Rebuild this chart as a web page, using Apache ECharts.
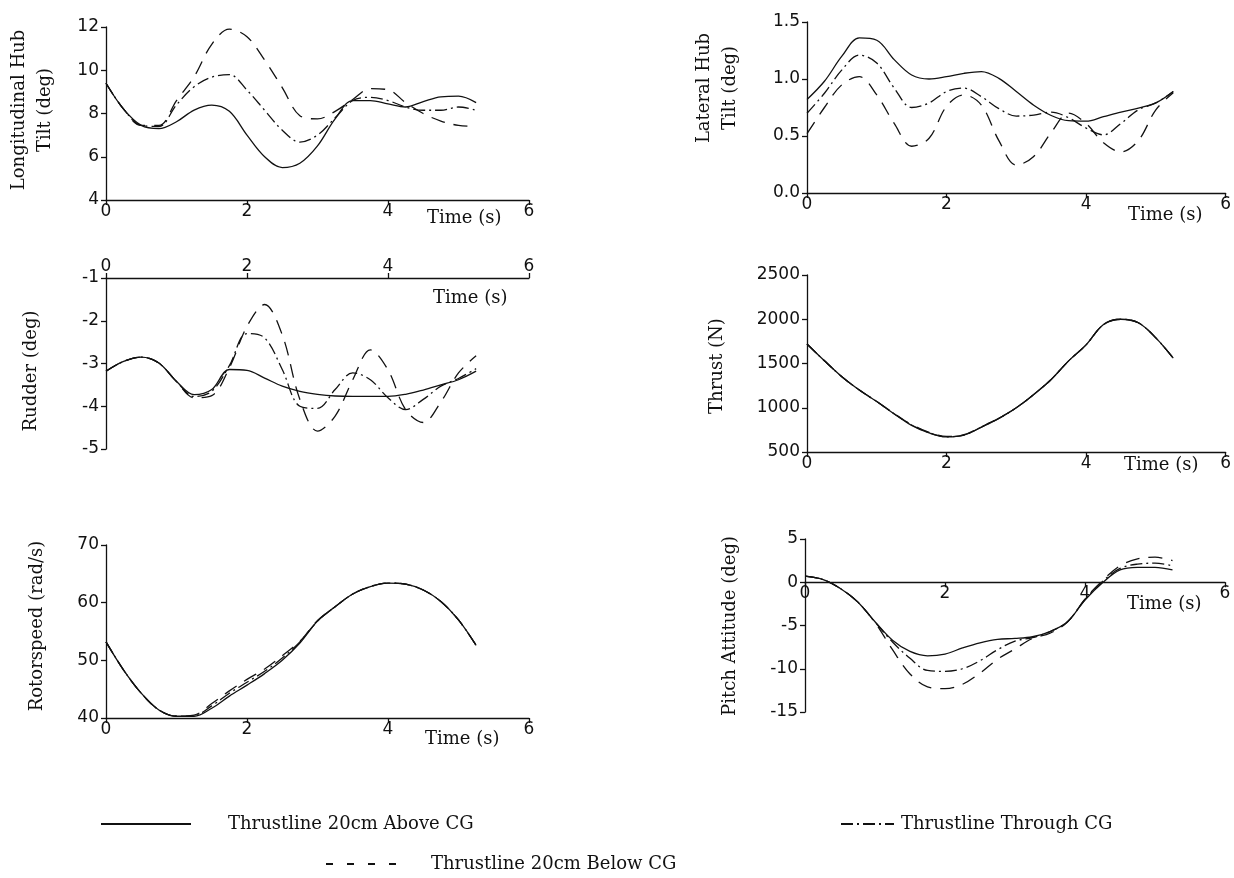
<!DOCTYPE html>
<html>
<head>
<meta charset="utf-8">
<script src="https://cdn.jsdelivr.net/npm/echarts@6/dist/echarts.min.js"></script>
<style>
html,body{margin:0;padding:0;background:#fff;}
#c{width:1234px;height:878px;}
</style>
</head>
<body>
<div id="c"></div>
<script>
// ---- data (time in s) ----
const TIME = [0,0.25,0.5,0.75,1.0,1.25,1.5,1.75,2.0,2.25,2.5,2.75,3.0,3.25,3.5,3.75,4.0,4.25,4.5,4.75,5.0,5.25];
const X_TICKS = [0,2,4,6];
const SERIES_NAMES = ['Thrustline 20cm Above CG','Thrustline Through CG','Thrustline 20cm Below CG'];

// Longitudinal Hub Tilt (deg)
const LONG_ABOVE   = [9.4,8.2,7.45,7.3,7.62,8.16,8.39,8.1,7.0,6.0,5.5,5.7,6.5,7.75,8.6,8.6,8.44,8.3,8.55,8.77,8.8,8.5];
const LONG_THROUGH = [9.4,8.2,7.45,7.4,8.4,9.24,9.68,9.8,9.08,8.15,7.23,6.68,7.0,7.8,8.6,8.75,8.6,8.3,8.15,8.15,8.3,8.15];
const LONG_BELOW   = [9.4,8.2,7.45,7.45,8.6,9.7,11.2,11.9,11.55,10.47,9.2,7.9,7.75,8.1,8.65,9.15,9.1,8.5,8.0,7.65,7.45,7.4];

// Rudder (deg)
const RUD_ABOVE   = [-3.18,-2.95,-2.85,-2.99,-3.42,-3.73,-3.61,-3.14,-3.16,-3.34,-3.53,-3.65,-3.72,-3.76,-3.77,-3.77,-3.77,-3.72,-3.62,-3.5,-3.38,-3.18];
const RUD_THROUGH = [-3.18,-2.95,-2.85,-2.99,-3.42,-3.77,-3.65,-3.05,-2.3,-2.4,-3.14,-4.0,-4.05,-3.61,-3.22,-3.38,-3.8,-4.08,-3.84,-3.53,-3.35,-3.12];
const RUD_BELOW   = [-3.18,-2.95,-2.85,-2.99,-3.42,-3.8,-3.75,-3.1,-2.13,-1.62,-2.33,-3.84,-4.58,-4.23,-3.38,-2.68,-3.15,-4.08,-4.38,-3.9,-3.22,-2.82];

// Rotorspeed (rad/s)
const ROT_ABOVE   = [53.2,48.3,44.3,41.4,40.3,40.3,41.7,43.8,45.7,47.7,50.0,53.0,56.8,59.3,61.5,62.8,63.4,63.2,62.2,60.2,57.0,52.6];
const ROT_THROUGH = [53.2,48.3,44.3,41.4,40.3,40.4,42.1,44.3,46.2,48.1,50.4,53.2,56.8,59.3,61.5,62.8,63.4,63.2,62.2,60.2,57.0,52.6];
const ROT_BELOW   = [53.2,48.3,44.3,41.4,40.3,40.5,42.5,44.7,46.7,48.5,50.8,53.3,56.9,59.3,61.5,62.8,63.4,63.2,62.2,60.2,57.0,52.6];

// Lateral Hub Tilt (deg)
const LAT_ABOVE   = [0.82,0.98,1.20,1.36,1.34,1.17,1.035,1.0,1.02,1.05,1.065,1.006,0.89,0.77,0.68,0.634,0.63,0.67,0.71,0.745,0.79,0.89];
const LAT_THROUGH = [0.70,0.875,1.08,1.21,1.14,0.92,0.75,0.79,0.89,0.92,0.845,0.74,0.675,0.684,0.71,0.66,0.57,0.51,0.61,0.73,0.79,0.89];
const LAT_BELOW   = [0.52,0.75,0.95,1.02,0.86,0.61,0.41,0.48,0.76,0.86,0.77,0.46,0.245,0.32,0.53,0.70,0.61,0.44,0.36,0.46,0.73,0.88];

// Thrust (N)
const THR_ABOVE   = [1720,1530,1350,1200,1070,930,800,715,670,690,780,880,1000,1150,1320,1530,1710,1940,2000,1960,1790,1560];
const THR_THROUGH = [1720,1530,1350,1200,1070,932,805,718,672,692,782,880,1000,1150,1320,1530,1710,1940,2000,1960,1790,1560];
const THR_BELOW   = [1720,1530,1350,1200,1070,935,810,722,676,695,785,882,1000,1150,1320,1530,1710,1940,2000,1960,1790,1560];

// Pitch Attitude (deg)
const PIT_ABOVE   = [0.72,0.34,-0.7,-2.25,-4.56,-6.7,-8.0,-8.5,-8.3,-7.6,-7.0,-6.6,-6.5,-6.3,-5.7,-4.56,-2.05,-0.05,1.42,1.72,1.72,1.42];
const PIT_THROUGH = [0.72,0.34,-0.7,-2.25,-4.6,-6.9,-8.8,-10.2,-10.3,-10.0,-9.07,-7.8,-6.8,-6.4,-5.7,-4.56,-2.0,0.1,1.6,2.1,2.2,1.9];
const PIT_BELOW   = [0.72,0.34,-0.7,-2.25,-4.65,-7.8,-10.6,-12.1,-12.3,-11.8,-10.5,-8.9,-7.7,-6.5,-5.9,-4.6,-1.95,0.2,1.9,2.7,2.9,2.5];

// ---- styles ----
const INK = '#111';
const TICK_FONT = 'DejaVu Sans';
const NAME_FONT = 'DejaVu Serif';
const LINE_TYPES = ['solid', [12,4,2,4], [14,9]];

const panels = [
  {rect:{left:106,top:27,width:423,height:173}, y:[4,12,2], xPos:'bottom', data:[LONG_ABOVE,LONG_THROUGH,LONG_BELOW]},
  {rect:{left:106,top:278,width:423,height:171}, y:[-5,-1,1], xPos:'top', data:[RUD_ABOVE,RUD_THROUGH,RUD_BELOW]},
  {rect:{left:106,top:545,width:423,height:173}, y:[40,70,10], xPos:'bottom', data:[ROT_ABOVE,ROT_THROUGH,ROT_BELOW]},
  {rect:{left:807,top:22,width:420,height:171}, y:[0,1.5,0.5], xPos:'bottom', fmt:v=>v.toFixed(1), data:[LAT_ABOVE,LAT_THROUGH,LAT_BELOW]},
  {rect:{left:807,top:275,width:420,height:177}, y:[500,2500,500], xPos:'bottom', data:[THR_ABOVE,THR_THROUGH,THR_BELOW]},
  {rect:{left:805,top:539,width:420,height:173}, y:[-15,5,5], xPos:'zero', data:[PIT_ABOVE,PIT_THROUGH,PIT_BELOW]}
];

const axisLineStyle = {color:INK, width:1.3};
const grid=[], xAxis=[], yAxis=[], series=[];
panels.forEach((p,i)=>{
  grid.push(Object.assign({containLabel:false}, p.rect));
  // for the "zero" panel, lift the bottom axis to the y = 0 level
  let off = 0;
  if (p.xPos==='zero') off = -p.rect.height * (0 - p.y[0]) / (p.y[1] - p.y[0]);
  xAxis.push({
    type:'value', gridIndex:i, min:X_TICKS[0], max:X_TICKS[X_TICKS.length-1], interval:2,
    position: p.xPos==='top' ? 'top' : 'bottom', offset: off,
    axisLine:{show:true, onZero:false, lineStyle:axisLineStyle},
    axisTick:{show:true, length:5, lineStyle:axisLineStyle},
    axisLabel:{color:INK, fontFamily:TICK_FONT, fontSize:17, margin:3},
    splitLine:{show:false}
  });
  yAxis.push({
    type:'value', gridIndex:i, min:p.y[0], max:p.y[1], interval:p.y[2],
    axisLine:{show:true, onZero:false, lineStyle:axisLineStyle},
    axisTick:{show:true, length:5, lineStyle:axisLineStyle},
    axisLabel:{color:INK, fontFamily:TICK_FONT, fontSize:17, margin:7, formatter:p.fmt || (v=>String(v))},
    splitLine:{show:false}
  });
  p.data.forEach((arr,k)=>{
    series.push({
      type:'line', name:SERIES_NAMES[k], xAxisIndex:i, yAxisIndex:i,
      data: TIME.map((t,j)=>[t,arr[j]]),
      symbol:'none', smooth:0.35, silent:true,
      lineStyle:{color:INK, width:1.3, type:LINE_TYPES[k]},
      itemStyle:{color:INK}
    });
  });
});

function nameText(text,x,y,rot){
  return {type:'text', x:x, y:y, rotation: rot?Math.PI/2:0, silent:true,
    style:{text:text, fill:INK, font:'18px "'+NAME_FONT+'"', align:rot?'center':'left', verticalAlign:'middle', lineHeight:26}};
}
const graphic = [
  nameText('Longitudinal Hub\nTilt (deg)',32,110,true),
  nameText('Rudder (deg)',31,371,true),
  nameText('Rotorspeed (rad/s)',37,626,true),
  nameText('Lateral Hub\nTilt (deg)',717,88,true),
  nameText('Thrust (N)',717,366,true),
  nameText('Pitch Attitude (deg)',730,626,true),
  nameText('Time (s)',427,218,false),
  nameText('Time (s)',433,298,false),
  nameText('Time (s)',425,739,false),
  nameText('Time (s)',1128,215,false),
  nameText('Time (s)',1124,465,false),
  nameText('Time (s)',1127,604,false)
];

function legendAt(name,left,top,w,pad,dash){
  const lg = {data:[name], left:left, top:top, itemWidth:w, itemHeight:14, selectedMode:false, padding:0,
    itemStyle:{color:'rgba(0,0,0,0)', borderWidth:0, opacity:0},
    textStyle:{color:INK, fontFamily:NAME_FONT, fontSize:18, padding:[0,0,0,pad]}};
  if(dash) lg.lineStyle = {type:dash};
  return lg;
}
const legend = [
  legendAt(SERIES_NAMES[0],100,815,90,32,null),
  legendAt(SERIES_NAMES[1],840,815,53,2,null),
  legendAt(SERIES_NAMES[2],325,855,70,30,[7,14])
];

const chart = echarts.init(document.getElementById('c'), null, {renderer:'canvas'});
chart.setOption({animation:false, backgroundColor:'#fff', grid, xAxis, yAxis, series, graphic, legend});
</script>
</body>
</html>
